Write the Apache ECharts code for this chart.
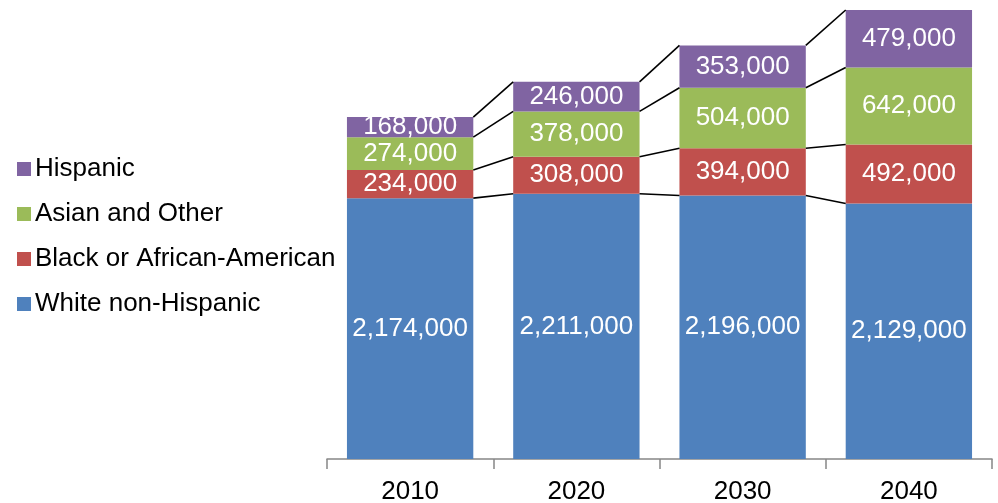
<!DOCTYPE html>
<html>
<head>
<meta charset="utf-8">
<script src="https://cdn.jsdelivr.net/npm/echarts@6/dist/echarts.min.js"></script>
<style>html,body{margin:0;padding:0;background:#fff}#c{width:998px;height:503px}</style>
</head>
<body>
<div id="c"></div>
<script>
const years = ['2010', '2020', '2030', '2040'];
const white = [2174000, 2211000, 2196000, 2129000];
const black = [234000, 308000, 394000, 492000];
const asian = [274000, 378000, 504000, 642000];
const hispanic = [168000, 246000, 353000, 479000];

const seriesDefs = [
  {name: 'White non-Hispanic', data: white, color: '#4F81BD'},
  {name: 'Black or African-American', data: black, color: '#C0504D'},
  {name: 'Asian and Other', data: asian, color: '#9BBB59'},
  {name: 'Hispanic', data: hispanic, color: '#8064A2'}
];
// cumulative tops for series lines
const cum = [];
let run = years.map(() => 0);
seriesDefs.forEach(s => { run = run.map((v, i) => v + s.data[i]); cum.push(run.slice()); });

const BAR_RATIO = 0.76;
const fmt = v => v.toLocaleString('en-US');
const FONT = 'Liberation Sans, Arial, sans-serif';

const chart = echarts.init(document.getElementById('c'));
const series = seriesDefs.map(s => ({
  name: s.name,
  type: 'bar',
  stack: 'total',
  data: s.data,
  barWidth: (BAR_RATIO * 100) + '%',
  itemStyle: {color: s.color},
  label: {
    show: true, position: 'inside', color: '#fff', fontSize: 26, fontFamily: FONT,
    formatter: p => fmt(p.value)
  }
}));
series.push({
  type: 'custom',
  name: 'serieslines',
  data: [[0, 0], [1, 0], [2, 0]],
  silent: true,
  z: 3,
  renderItem: function (params, api) {
    const i = params.dataIndex;
    const bw = api.size([1, 0])[0] * BAR_RATIO;
    const children = cum.map(level => {
      const p1 = api.coord([i, level[i]]);
      const p2 = api.coord([i + 1, level[i + 1]]);
      return {type: 'line', shape: {x1: p1[0] + bw / 2, y1: p1[1], x2: p2[0] - bw / 2, y2: p2[1]},
        style: {stroke: '#000', lineWidth: 1.6}};
    });
    return {type: 'group', children: children};
  }
});

chart.setOption({
  animation: false,
  backgroundColor: '#fff',
  legend: {
    orient: 'vertical', left: 12, top: 150,
    data: ['Hispanic', 'Asian and Other', 'Black or African-American', 'White non-Hispanic'],
    icon: 'rect', itemWidth: 14, itemHeight: 14, itemGap: 17,
    textStyle: {fontSize: 26, fontFamily: FONT, color: '#000', lineHeight: 28, padding: [0, 0, 0, -1]}
  },
  grid: {left: 327, right: 6, top: 10, bottom: 44, outerBoundsMode: 'none', containLabel: false},
  xAxis: {
    type: 'category', data: years,
    axisLine: {lineStyle: {color: '#868686', width: 1.5}},
    axisTick: {show: true, length: 10, lineStyle: {color: '#868686', width: 1.5}},
    axisLabel: {fontSize: 26, fontFamily: FONT, color: '#000', margin: 20}
  },
  yAxis: {type: 'value', min: 0, max: 3742000, show: false, splitLine: {show: false}},
  series: series
});
</script>
</body>
</html>
